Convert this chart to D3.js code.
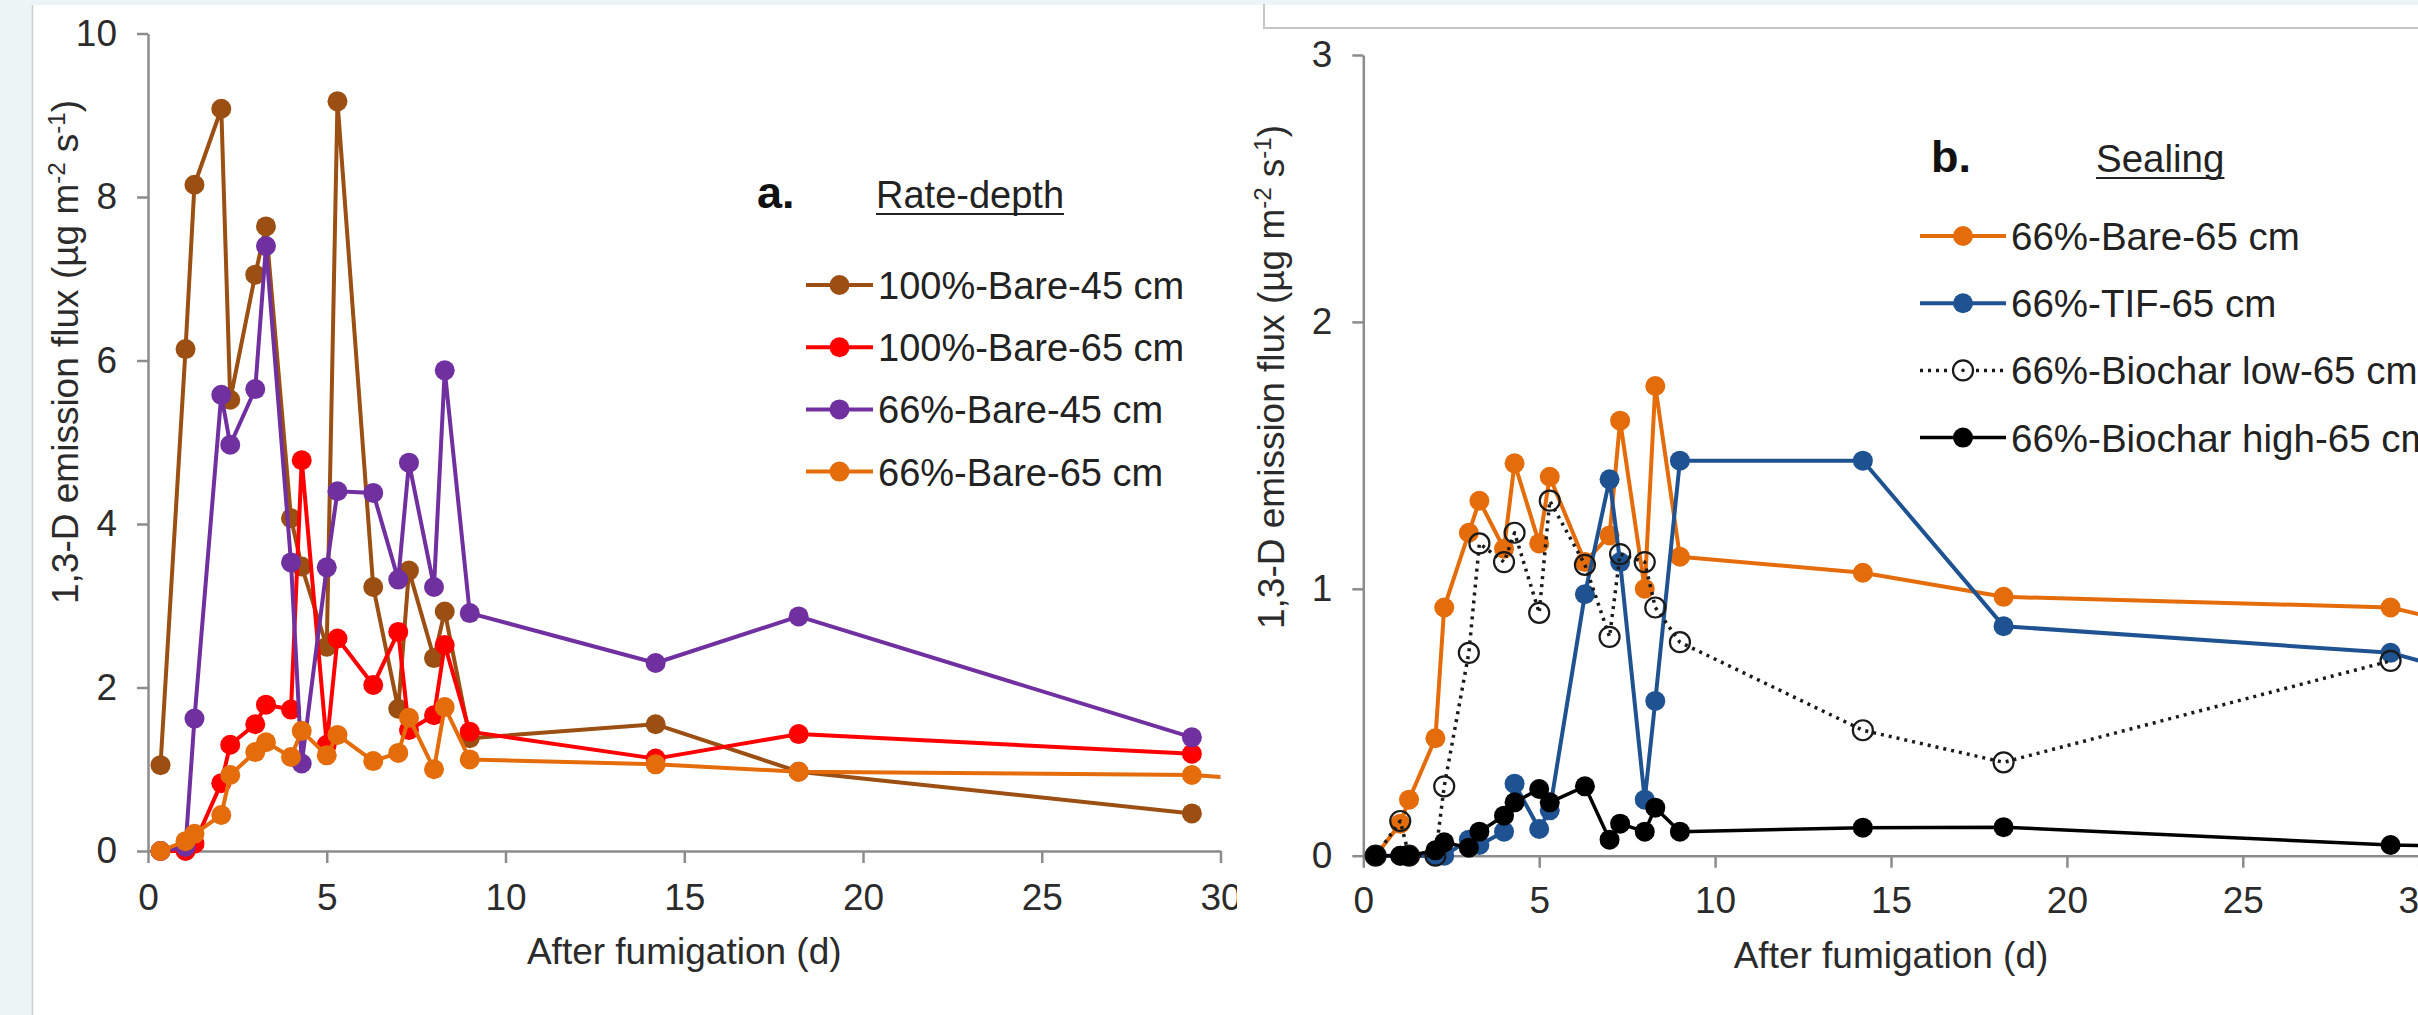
<!DOCTYPE html>
<html>
<head>
<meta charset="utf-8">
<script src="https://cdn.jsdelivr.net/npm/d3@7"></script>
<style>
  html, body { margin: 0; padding: 0; background: #ecf4f6; overflow: hidden; }
  svg { display: block; font-family: "Liberation Sans", Arial, sans-serif; }
</style>
</head>
<body>
<svg id="fig" width="2418" height="1015"></svg>
<script>
// Sampling times after fumigation (days)
const days = [0.35, 1.05, 1.3, 2.05, 2.3, 3.0, 3.3, 4.0, 4.3, 5.0, 5.3, 6.3, 7.0, 7.3, 8.0, 8.3, 9.0, 14.2, 18.2, 29.2, 35];

// Panel a: application rate and injection depth (µg m-2 s-1)
const bare100_45 = [1.05, 6.14, 8.15, 9.08, 5.52, 7.05, 7.64, 4.07, 3.48, 2.50, 9.17, 3.23, 1.74, 3.43, 2.36, 2.93, 1.38, 1.55, 0.97, 0.46, null];
const bare100_65 = [0, 0, 0.09, 0.83, 1.30, 1.55, 1.79, 1.73, 4.78, 1.30, 2.60, 2.03, 2.68, 1.48, 1.66, 2.52, 1.46, 1.13, 1.43, 1.19, null];
const bare66_45  = [0, 0.05, 1.62, 5.58, 4.97, 5.65, 7.40, 3.53, 1.07, 3.47, 4.40, 4.38, 3.32, 4.75, 3.23, 5.88, 2.91, 2.30, 2.87, 1.39, null];
const bare66_65  = [0, 0.12, 0.21, 0.44, 0.93, 1.21, 1.33, 1.15, 1.47, 1.17, 1.42, 1.10, 1.20, 1.63, 1.00, 1.76, 1.12, 1.06, 0.97, 0.93, 0.75];

// Panel b: surface sealing treatments (µg m-2 s-1)
const tif66_65     = [0, 0, 0, 0, 0, 0.06, 0.04, 0.09, 0.27, 0.10, 0.17, 0.98, 1.41, 1.10, 0.21, 0.58, 1.48, 1.48, 0.86, 0.76, 0.55];
const biocharLow   = [0, 0.13, 0, 0, 0.26, 0.76, 1.17, 1.10, 1.21, 0.91, 1.33, 1.09, 0.82, 1.13, 1.10, 0.93, 0.80, 0.47, 0.35, 0.73, null];
const biocharHigh  = [0, 0, 0, 0.02, 0.05, 0.03, 0.09, 0.15, 0.20, 0.25, 0.20, 0.26, 0.06, 0.12, 0.09, 0.18, 0.09, 0.105, 0.107, 0.04, 0.03];

// Axis ticks
const xTicks  = [0, 5, 10, 15, 20, 25, 30];
const yTicksA = [0, 2, 4, 6, 8, 10];
const yTicksB = [0, 1, 2, 3];

const FONT = 37;
const svg = d3.select("#fig");

// page frame
svg.append("rect").attr("x", 33).attr("y", 5).attr("width", 2418 - 33).attr("height", 1010).attr("fill", "#ffffff");
svg.append("line").attr("x1", 32.5).attr("x2", 32.5).attr("y1", 5).attr("y2", 1015)
  .attr("stroke", "#c9d1d4").attr("stroke-width", 1.5);
svg.append("path").attr("d", "M1264,4V28H2418").attr("fill", "none")
  .attr("stroke", "#c6c6c6").attr("stroke-width", 2);

const defs = svg.append("defs");

function drawPanel(p) {
  const root = svg.append("g");
  if (p.clipRight) {
    defs.append("clipPath").attr("id", p.id + "-panel")
      .append("rect").attr("x", 0).attr("y", 0).attr("width", p.clipRight).attr("height", 1015);
    root.attr("clip-path", `url(#${p.id}-panel)`);
  }
  const x = d3.scaleLinear().domain([0, 30]).range([p.x0, p.x1]);
  const y = d3.scaleLinear().domain([0, p.ymax]).range([p.y0, p.y1]);

  // axes
  const axisStyle = sel => {
    sel.select(".domain").attr("stroke", "#8c8c8c").attr("stroke-width", 2.5);
    sel.selectAll(".tick line").attr("stroke", "#8c8c8c").attr("stroke-width", 2.5);
    sel.selectAll(".tick text").attr("font-size", FONT).attr("fill", "#2b2b2b")
      .attr("font-family", "\"Liberation Sans\", Arial, sans-serif");
  };
  root.append("g").attr("transform", `translate(0,${p.y0})`)
    .call(d3.axisBottom(x).tickValues(xTicks).tickFormat(d3.format("d")).tickSize(12).tickSizeOuter(0).tickPadding(p.xPad))
    .call(axisStyle);
  root.append("g").attr("transform", `translate(${p.x0},0)`)
    .call(d3.axisLeft(y).tickValues(p.yTicks).tickFormat(d3.format("d")).tickSize(11).tickSizeOuter(0).tickPadding(20))
    .call(axisStyle);

  // y-axis title with superscripts
  const yt = root.append("text")
    .attr("transform", `translate(${p.yTitleX},${p.yTitleY}) rotate(-90)`)
    .attr("text-anchor", "middle").attr("font-size", FONT).attr("fill", "#2b2b2b");
  yt.append("tspan").text("1,3-D emission flux (µg m");
  yt.append("tspan").attr("font-size", 24).attr("dy", -13).text("-2");
  yt.append("tspan").attr("dy", 13).text(" s");
  yt.append("tspan").attr("font-size", 24).attr("dy", -13).text("-1");
  yt.append("tspan").attr("dy", 13).text(")");

  // x-axis title
  root.append("text").attr("x", (p.x0 + p.x1) / 2).attr("y", p.xTitleY)
    .attr("text-anchor", "middle").attr("font-size", FONT).attr("fill", "#2b2b2b")
    .text("After fumigation (d)");

  // series, clipped to the plot's x-range
  defs.append("clipPath").attr("id", p.id + "-plot")
    .append("rect").attr("x", 0).attr("y", 0).attr("width", p.x1).attr("height", 1015);
  const plot = root.append("g").attr("clip-path", `url(#${p.id}-plot)`);

  p.series.forEach(s => {
    const pts = days.map((d, i) => ({ d, v: s.values[i] }));
    const line = d3.line().defined(q => q.v != null).x(q => x(q.d)).y(q => y(q.v));
    plot.append("path").datum(pts).attr("d", line).attr("fill", "none")
      .attr("stroke", s.color).attr("stroke-width", s.width || 4)
      .attr("stroke-dasharray", s.dash || null)
      .attr("stroke-linejoin", "round");
    plot.append("g").selectAll("circle")
      .data(pts.filter(q => q.v != null && q.d <= 30))
      .join("circle")
      .attr("cx", q => x(q.d)).attr("cy", q => y(q.v)).attr("r", 10)
      .attr("fill", s.open ? "none" : s.color)
      .attr("stroke", s.color).attr("stroke-width", s.open ? 2.2 : 0);
  });

  // legend
  const lg = root.append("g");
  lg.append("text").attr("x", p.tagX).attr("y", p.tagY).attr("font-size", 45)
    .attr("font-weight", "bold").attr("fill", "#111").text(p.tag);
  const title = lg.append("text").attr("x", p.titleX).attr("y", p.tagY).attr("font-size", p.legFont)
    .attr("fill", "#222").text(p.title);
  const tw = title.node().getComputedTextLength();
  lg.append("line").attr("x1", p.titleX).attr("x2", p.titleX + tw)
    .attr("y1", p.tagY + 6).attr("y2", p.tagY + 6).attr("stroke", "#222").attr("stroke-width", 2);

  const rows = lg.selectAll("g.row").data(p.series).join("g").attr("class", "row")
    .attr("transform", (s, i) => `translate(0,${p.legY0 + i * p.legDy})`);
  rows.append("line").attr("x1", p.legX0).attr("x2", p.legX1).attr("y1", 0).attr("y2", 0)
    .attr("stroke", s => s.color).attr("stroke-width", s => s.width || 4)
    .attr("stroke-dasharray", s => s.dash || null);
  rows.append("circle").attr("cx", (p.legX0 + p.legX1) / 2).attr("cy", 0).attr("r", 10)
    .attr("fill", s => s.open ? "#fff" : s.color)
    .attr("stroke", s => s.color).attr("stroke-width", s => s.open ? 2.2 : 0);
  rows.filter(s => s.open).append("circle").attr("cx", (p.legX0 + p.legX1) / 2).attr("cy", 0)
    .attr("r", 1.8).attr("fill", "#222");
  rows.append("text").attr("x", p.legX1 + 5).attr("y", 14).attr("font-size", p.legFont)
    .attr("fill", "#222").text(s => s.name);
}

drawPanel({
  id: "pa", x0: 148, x1: 1220.5, y0: 851, y1: 33.5, ymax: 10, yTicks: yTicksA,
  xPad: 21, clipRight: 1237,
  yTitleX: 78, yTitleY: 352, xTitleY: 964,
  tag: "a.", tagX: 757, tagY: 208, title: "Rate-depth", titleX: 876,
  legX0: 806, legX1: 873, legY0: 285, legDy: 62.2, legFont: 38,
  series: [
    { name: "100%-Bare-45 cm", values: bare100_45, color: "#9b4f12" },
    { name: "100%-Bare-65 cm", values: bare100_65, color: "#ff0000" },
    { name: "66%-Bare-45 cm",  values: bare66_45,  color: "#7030a0" },
    { name: "66%-Bare-65 cm",  values: bare66_65,  color: "#e46c0a" }
  ]
});

drawPanel({
  id: "pb", x0: 1363.3, x1: 2418.7, y0: 855.7, y1: 55, ymax: 3, yTicks: yTicksB,
  xPad: 19, clipRight: null,
  yTitleX: 1284, yTitleY: 377, xTitleY: 968,
  tag: "b.", tagX: 1931, tagY: 172, title: "Sealing", titleX: 2096,
  legX0: 1920, legX1: 2006, legY0: 236, legDy: 67.2, legFont: 38.5,
  series: [
    { name: "66%-Bare-65 cm",          values: bare66_65,   color: "#e46c0a" },
    { name: "66%-TIF-65 cm",           values: tif66_65,    color: "#1f5291" },
    { name: "66%-Biochar low-65 cm",   values: biocharLow,  color: "#1a1a1a", dash: "3,5", width: 3.5, open: true },
    { name: "66%-Biochar high-65 cm",  values: biocharHigh, color: "#000000", width: 3.5 }
  ]
});
</script>
</body>
</html>
